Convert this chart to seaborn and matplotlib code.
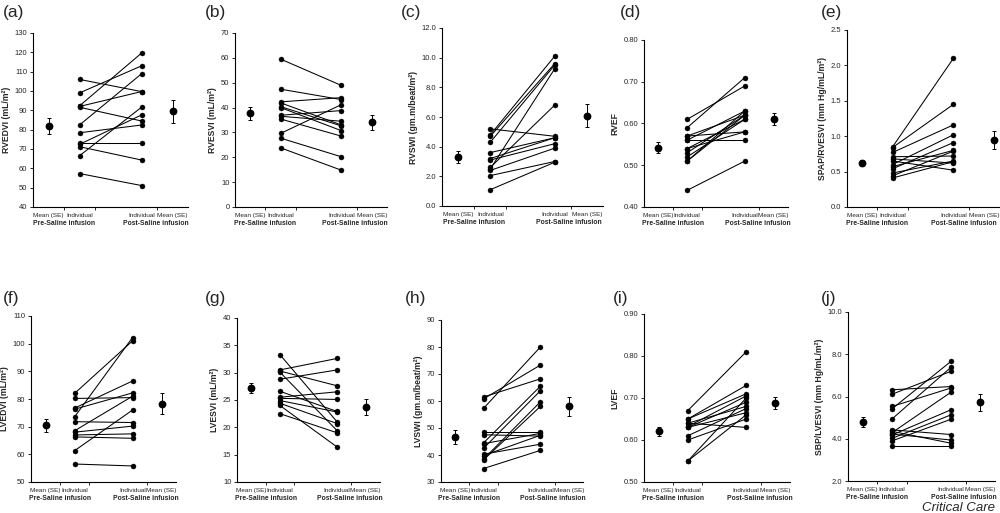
import numpy as np
import pandas as pd
import matplotlib
matplotlib.use("Agg")
import matplotlib.pyplot as plt
import seaborn as sns

sns.set_style("ticks")
plt.rcParams['font.family'] = ['Liberation Sans', 'DejaVu Sans']

# ---------------- data ----------------
categories = ["Mean (SE)", "Individual", "Individual", "Mean (SE)"]
groups = ["Pre-Saline infusion", "Post-Saline infusion"]
panel_letters = ["(a)", "(b)", "(c)", "(d)", "(e)", "(f)", "(g)", "(h)", "(i)", "(j)"]
ylabels = ["RVEDVI (mL/m²)", "RVESVI (mL/m²)", "RVSWI (gm.m/beat/m²)", "RVEF",
           "SPAP/RVESVI (mm Hg/mL/m²)", "LVEDVI (mL/m²)", "LVESVI (mL/m²)",
           "LVSWI (gm.m/beat/m²)", "LVEF", "SBP/LVESVI (mm Hg/mL/m²)"]

pre_a = [106.0, 99.0, 92.3, 92.0, 91.6, 82.4, 78.4, 73.2, 72.4, 71.2, 66.5, 57.3]
post_a = [99.7, 113.0, 119.6, 99.7, 84.5, 108.9, 82.4, 73.2, 87.6, 64.3, 91.6, 51.1]
pre_b = [59.5, 47.4, 42.3, 41.9, 40.4, 40.0, 36.9, 36.5, 35.4, 29.6, 27.7, 23.8]
post_b = [48.9, 43.2, 44.0, 33.0, 32.6, 30.7, 38.8, 34.5, 28.5, 41.2, 20.2, 14.8]
pre_c = [5.2, 4.8, 4.7, 4.3, 3.6, 3.2, 3.1, 2.6, 2.5, 2.4, 2.05, 1.1]
post_c = [4.7, 10.1, 9.6, 9.5, 4.6, 4.6, 4.2, 6.8, 9.25, 3.9, 3.0, 2.95]
pre_d = [0.61, 0.59, 0.57, 0.57, 0.56, 0.56, 0.54, 0.54, 0.53, 0.52, 0.51, 0.51, 0.44]
post_d = [0.69, 0.71, 0.62, 0.58, 0.63, 0.56, 0.61, 0.58, 0.62, 0.61, 0.62, 0.63, 0.51]
pre_e = [0.85, 0.84, 0.77, 0.71, 0.68, 0.65, 0.60, 0.57, 0.54, 0.48, 0.44, 0.41]
post_e = [2.10, 1.45, 1.16, 0.72, 0.62, 0.52, 1.02, 0.80, 0.91, 0.65, 0.79, 0.64]
pre_f = [82.0, 80.2, 76.7, 76.3, 73.5, 71.8, 68.5, 68.0, 67.0, 66.3, 61.3, 56.5]
post_f = [101.0, 80.5, 86.5, 82.2, 102.2, 71.5, 81.0, 70.2, 67.4, 65.8, 76.0, 55.8]
pre_g = [33.3, 30.5, 30.3, 30.1, 28.8, 26.6, 25.5, 25.3, 24.9, 24.4, 24.0, 22.5]
post_g = [21.0, 32.6, 27.6, 19.4, 30.5, 22.9, 26.5, 25.1, 22.8, 20.7, 16.4, 19.0]
pre_h = [61.5, 60.8, 57.3, 48.5, 47.5, 44.5, 44.2, 42.5, 40.3, 39.8, 38.5, 38.2, 35.0]
post_h = [68.2, 73.3, 80.0, 48.5, 47.0, 65.5, 48.0, 63.8, 44.0, 47.3, 59.7, 58.0, 41.7]
pre_i = [0.67, 0.65, 0.65, 0.64, 0.64, 0.63, 0.632, 0.63, 0.61, 0.60, 0.55, 0.55]
post_i = [0.81, 0.73, 0.71, 0.63, 0.68, 0.665, 0.705, 0.69, 0.675, 0.65, 0.70, 0.66]
pre_j = [6.32, 6.11, 5.53, 5.42, 4.94, 4.42, 4.35, 4.29, 4.22, 4.18, 4.02, 3.90, 3.68]
post_j = [6.47, 7.19, 6.40, 7.66, 7.38, 4.20, 3.79, 6.20, 3.94, 5.37, 5.13, 4.92, 3.68]

mean_pre = [82.0, 37.8, 3.3, 0.542, 0.62, 70.5, 27.2, 46.7, 0.621, 4.78]
se_pre = [4.2, 2.6, 0.38, 0.013, 0.04, 2.3, 1.0, 2.7, 0.011, 0.23]
mean_post = [89.5, 34.0, 6.1, 0.611, 0.95, 78.3, 23.7, 58.0, 0.689, 5.72]
se_post = [5.8, 2.9, 0.8, 0.015, 0.13, 3.9, 1.4, 3.6, 0.014, 0.40]

pres = [pre_a, pre_b, pre_c, pre_d, pre_e, pre_f, pre_g, pre_h, pre_i, pre_j]
posts = [post_a, post_b, post_c, post_d, post_e, post_f, post_g, post_h, post_i, post_j]

# y axis settings (limits, step, format)
yspec = [(40, 130, 10, "{:.0f}"), (0, 70, 10, "{:.0f}"), (0, 12, 2, "{:.1f}"),
         (0.4, 0.8, 0.1, "{:.2f}"), (0, 2.5, 0.5, "{:.1f}"), (50, 110, 10, "{:.0f}"),
         (10, 40, 5, "{:.0f}"), (30, 90, 10, "{:.0f}"), (0.5, 0.9, 0.1, "{:.2f}"),
         (2, 10, 2, "{:.1f}")]

# ---------------- layout (pixels) ----------------
W, H = 1000, 513
boxes = [(33, 188, 33, 207), (235, 387, 33, 207), (442, 603, 28, 206),
         (644, 788, 40, 207), (847, 999, 30, 207),
         (31, 176, 316, 482), (237, 380, 318, 482), (441, 583, 320, 482),
         (644, 790, 314, 482), (848, 995, 312, 481)]
letter_pos = [(3, 13), (205, 13), (401, 13), (620, 13), (821, 13),
              (3, 298), (205, 298), (405, 298), (613, 298), (821, 298)]
mean_post_x = [4.5, 4.5, 4.5, 4.5, 4.85, 4.5, 4.5, 4.5, 4.5, 4.5]
post_group_x = [3.95, 3.95, 3.95, 3.95, 3.85, 3.95, 3.95, 3.95, 3.95, 3.95]

fig = plt.figure(figsize=(W / 100, H / 100), dpi=100)
fig.patch.set_facecolor("white")

for k in range(10):
    l, r, t, b = boxes[k]
    ax = fig.add_axes([l / W, 1 - b / H, (r - l) / W, (b - t) / H])
    pre, post = pres[k], posts[k]
    n = len(pre)
    df = pd.DataFrame({
        "subj": list(range(n)) * 2,
        "x": [1.5] * n + [3.5] * n,
        "y": list(pre) + list(post),
    })
    sns.lineplot(data=df, x="x", y="y", units="subj", estimator=None, sort=False,
                 color="black", lw=0.75, marker="o", markersize=3.6,
                 markeredgecolor="black", markeredgewidth=0.3, ax=ax, legend=False)
    ax.errorbar([0.5, mean_post_x[k]], [mean_pre[k], mean_post[k]],
                yerr=[se_pre[k], se_post[k]], fmt="o", color="black",
                ms=4.6, capsize=1.6, elinewidth=0.7, capthick=0.7)

    y0, y1, st, fmt = yspec[k]
    ticks = np.arange(y0, y1 + st / 2, st)
    ax.set_ylim(y0, y1)
    ax.set_yticks(ticks)
    ax.set_yticklabels([fmt.format(v) for v in ticks])
    ax.set_xlim(0, 5)
    ax.set_xticks([0.5, 1.5, 3.5, 4.5])
    ax.set_xticklabels(categories)
    ax.set_xticks([1, 2, 4], minor=True)
    ax.tick_params(axis="x", which="major", length=0, pad=4.0, labelsize=4.6)
    ax.tick_params(axis="x", which="minor", length=2.5, width=0.7)
    ax.tick_params(axis="y", length=2.5, width=0.7, pad=1.5, labelsize=5.5)
    ax.set_xlabel("")
    ax.set_ylabel(ylabels[k], fontsize=6.2, fontweight="bold", labelpad=3)
    for s in ["top", "right"]:
        ax.spines[s].set_visible(False)
    for s in ["left", "bottom"]:
        ax.spines[s].set_linewidth(0.8)
        ax.spines[s].set_color("black")
    ax.set_facecolor("none")

    for gx, g in zip([1.0, post_group_x[k]], groups):
        ax.annotate(g, xy=(gx, 0), xycoords=("data", "axes fraction"),
                    xytext=(0, -12.0), textcoords="offset points",
                    ha="center", va="center", fontsize=4.9, fontweight="bold")

    lx, ly = letter_pos[k]
    fig.text(lx / W, 1 - ly / H, panel_letters[k], fontsize=12.5,
             ha="left", va="center")

fig.text(995 / W, 1 - 508 / H, "Critical Care", fontsize=9.5, style="italic",
         ha="right", va="center")

fig.savefig("out.png", dpi=100, facecolor="white")
